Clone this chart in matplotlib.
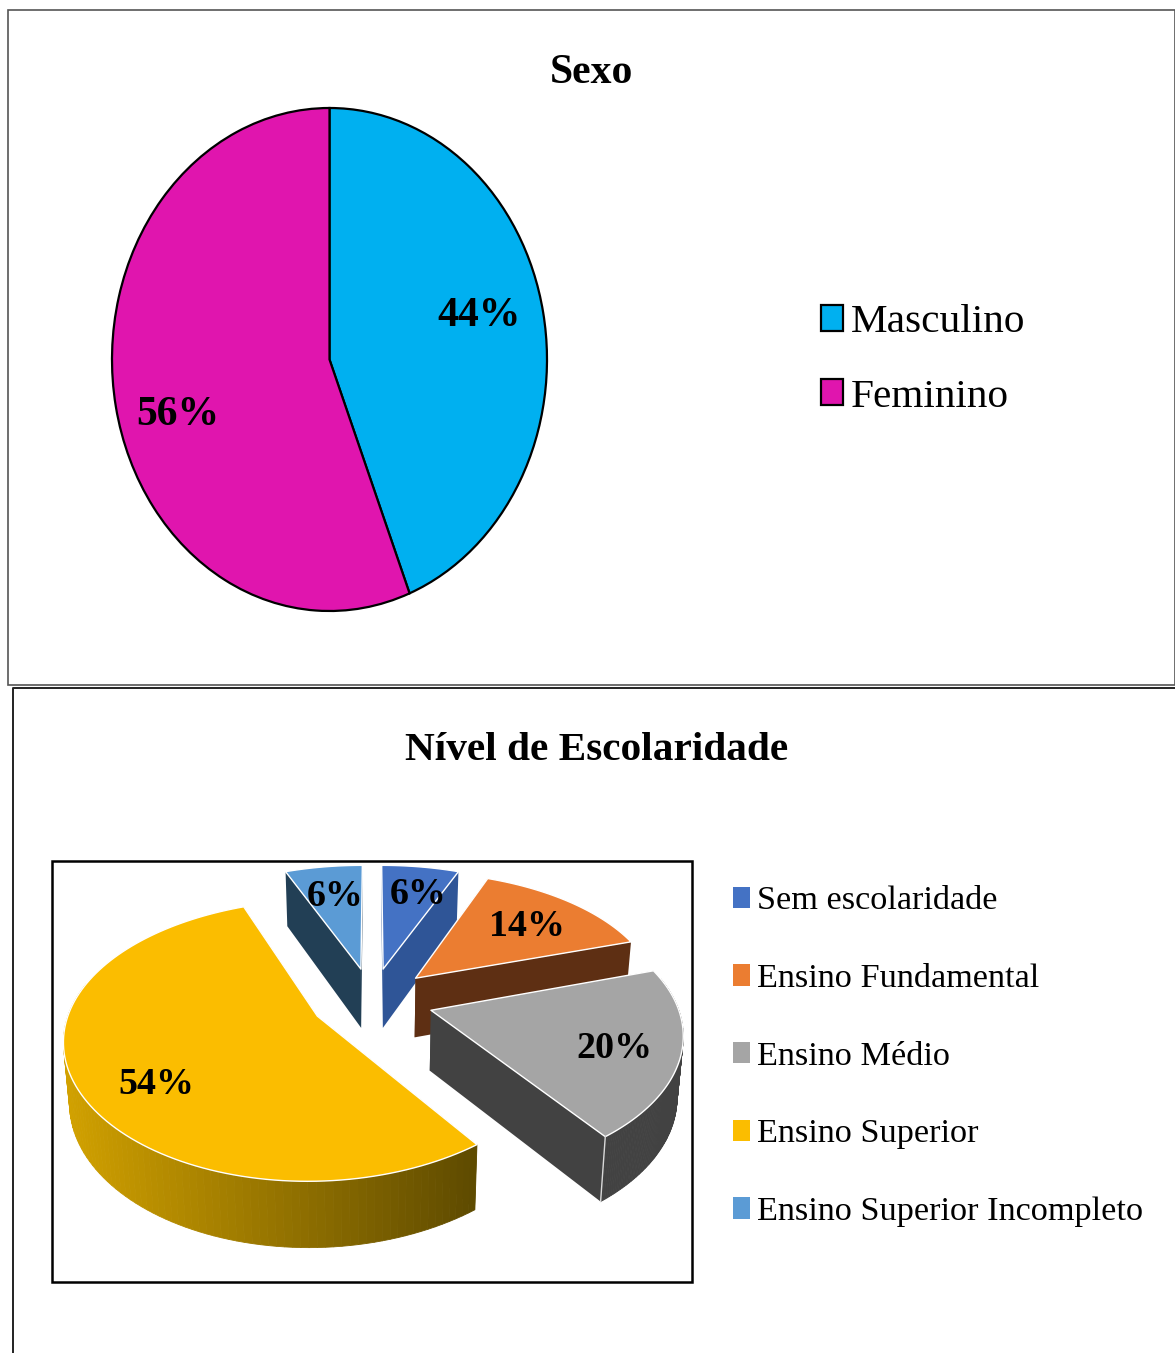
import numpy as np
import matplotlib
matplotlib.use("Agg")
import matplotlib.pyplot as plt
from matplotlib.patches import Polygon, Rectangle, Patch
from matplotlib.colors import to_rgb

W, H = 1175, 1353
plt.rcParams['font.family'] = ['Liberation Serif', 'DejaVu Serif']

# ---- data
sexo_title = "Sexo"
sexo_labels = ["Masculino", "Feminino"]
sexo_values = [44, 56]
sexo_colors = ["#00B0F0", "#E015AE"]

esc_title = "Nível de Escolaridade"
esc_labels = ["Sem escolaridade", "Ensino Fundamental", "Ensino Médio",
              "Ensino Superior", "Ensino Superior Incompleto"]
esc_values = [6, 14, 20, 54, 6]
esc_colors = ["#4472C4", "#EB7D31", "#A5A5A5", "#FBBD00", "#5B9BD5"]
esc_wall_a = ["#2F5597", "#5E2F13", "#424242", "#D0A000", "#223F55"]
esc_wall_b = ["#2F5597", "#5E2F13", "#424242", "#5F4B00", "#223F55"]

fig = plt.figure(figsize=(W / 100, H / 100), dpi=100, facecolor="white")

def px_axes(x0, y0, x1, y1):
    return fig.add_axes([x0 / W, 1 - y1 / H, (x1 - x0) / W, (y1 - y0) / H])

# ---- top pie
ax1 = px_axes(112, 108, 547, 611)
wedges, _ = ax1.pie(sexo_values, colors=sexo_colors, startangle=90, counterclock=False,
                    radius=1, wedgeprops=dict(edgecolor="black", linewidth=1.6))
ax1.set_aspect("auto")
ax1.set_xlim(-1, 1)
ax1.set_ylim(-1, 1)
for w in wedges:
    w.set_clip_on(False)

# ---- overlay in pixel units
ax = fig.add_axes([0, 0, 1, 1], facecolor="none")
ax.set_xlim(0, W)
ax.set_ylim(H, 0)
ax.axis("off")

ax.add_patch(Rectangle((8, 10), W - 8 - 0.5, 675, fill=False, ec="#555555", lw=1.2))
ax.plot([13, 13, W], [H, 688, 688], color="#222222", lw=1.4)
ax.add_patch(Rectangle((52, 861), 640, 421, fill=False, ec="black", lw=1.8))

# ---- exploded perspective pie
CX, CY, RX, RY, KX, KY, DEPTH, EXPL = 372, 1000, 245, 131, 0.15, 0.17, 60, 0.25

def proj(X, Y, z=0.0):
    return (CX + X * RX / (1 + KX * Y) * (1 - 0.02 * z),
            CY - Y * RY / (1 + KY * Y) + z * DEPTH / (1 + 0.5 * KY * Y))

def mix(a, b, t):
    a, b = np.array(to_rgb(a)), np.array(to_rgb(b))
    return tuple(a + (b - a) * t)

shares = np.array(esc_values) / sum(esc_values) * 2 * np.pi
ends = np.cumsum(shares)
starts = ends - shares
# far slices first, near ones last
for i in [4, 0, 1, 3, 2]:
    a0, a1 = starts[i], ends[i]
    mid = (a0 + a1) / 2
    ox, oy = EXPL * np.sin(mid), EXPL * np.cos(mid)
    th = np.linspace(a0, a1, 120)
    X = ox + np.sin(th)
    Y = oy + np.cos(th)
    top_x, top_y = proj(X, Y, 0)
    low_x, low_y = proj(X, Y, 1)
    ax_, ay_ = proj(ox, oy, 0)
    bx_, by_ = proj(ox, oy, 1)

    # radial walls
    for (px, py, qx, qy) in [(top_x[0], top_y[0], low_x[0], low_y[0]),
                             (top_x[-1], top_y[-1], low_x[-1], low_y[-1])]:
        ax.add_patch(Polygon([(ax_, ay_), (px, py), (qx, qy), (bx_, by_)],
                             closed=True, fc=esc_wall_a[i] if i != 3 else esc_wall_b[i],
                             ec="none", zorder=3))
    # outer wall, front part only
    xmin, xmax = low_x.min(), low_x.max()
    for k in range(len(th) - 1):
        if np.cos((th[k] + th[k + 1]) / 2) < 0.25:
            t = (top_x[k] - xmin) / max(xmax - xmin, 1)
            c = mix(esc_wall_a[i], esc_wall_b[i], t)
            ax.add_patch(Polygon([(top_x[k], top_y[k]), (top_x[k + 1], top_y[k + 1]),
                                  (low_x[k + 1], low_y[k + 1]), (low_x[k], low_y[k])],
                                 closed=True, fc=c, ec=c, lw=0.6, zorder=3))
    # top face
    ax.add_patch(Polygon(np.r_[[(ax_, ay_)], np.c_[top_x, top_y]], closed=True,
                         fc=esc_colors[i], ec="white", lw=1.0, joinstyle="round", zorder=3))
    if i == 2:
        ax.plot([top_x[-1], low_x[-1]], [top_y[-1], low_y[-1]], color="#D9D9D9", lw=1, zorder=3)

# ---- value labels
sexo_label_xy = [(479, 316), (178, 415)]
for v, (x, y) in zip(sexo_values, sexo_label_xy):
    ax.text(x, y, f"{v}%", ha="center", va="center", fontsize=30, fontweight="bold", color="black")
esc_label_xy = [(418, 894), (527, 926), (614, 1049), (156, 1084), (335, 897)]
for v, (x, y) in zip(esc_values, esc_label_xy):
    ax.text(x, y, f"{v}%", ha="center", va="center", fontsize=27.4, fontweight="bold",
            color="black", zorder=5)

# ---- titles
ax.text(591, 73, sexo_title, ha="center", va="center", fontsize=30, fontweight="bold")
ax.text(597, 751, esc_title, ha="center", va="center", fontsize=29.7, fontweight="bold")

# ---- legends
def trans(x, y):
    return (x / W, 1 - y / H)

leg1 = fig.legend(handles=[Patch(fc=c, ec="black", lw=1.6, label=l)
                           for c, l in zip(sexo_colors, sexo_labels)],
                  loc="upper left", bbox_to_anchor=trans(813, 296), frameon=False,
                  fontsize=29.7, handlelength=0.533, handleheight=0.58, handletextpad=0.19,
                  labelspacing=0.91, borderpad=0.2, borderaxespad=0)
leg2 = fig.legend(handles=[Patch(fc=c, ec="none", label=l)
                           for c, l in zip(esc_colors, esc_labels)],
                  loc="upper left", bbox_to_anchor=trans(726, 879), frameon=False,
                  fontsize=24.7, handlelength=0.496, handleheight=0.583, handletextpad=0.2,
                  labelspacing=1.375, borderpad=0.2, borderaxespad=0)

fig.savefig("out.png", dpi=100, facecolor="white")
